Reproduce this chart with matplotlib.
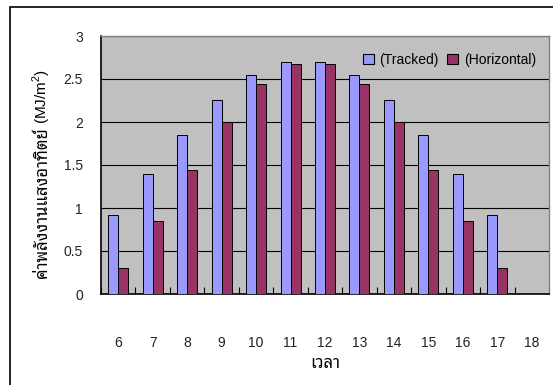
import numpy as np
import matplotlib
matplotlib.use("Agg")
import matplotlib.pyplot as plt
from matplotlib.patches import Rectangle, Patch

plt.rcParams['font.family'] = ['Liberation Sans', 'Noto Sans Thai Looped']
plt.rcParams['mathtext.fontset'] = 'custom'
plt.rcParams['mathtext.rm'] = 'Liberation Sans'

# hourly solar energy, tracked collector vs horizontal surface
hours = ['6', '7', '8', '9', '10', '11', '12', '13', '14', '15', '16', '17', '18']
tracked = [0.92, 1.40, 1.85, 2.26, 2.55, 2.70, 2.70, 2.55, 2.26, 1.85, 1.40, 0.92]
horizontal = [0.30, 0.85, 1.44, 2.00, 2.44, 2.67, 2.67, 2.44, 2.00, 1.44, 0.85, 0.30]

c_tracked = '#9999FF'
c_horiz = '#993366'

fig = plt.figure(figsize=(5.53, 3.85), dpi=100)
ax = fig.add_axes([101/553, 1 - 294/385, 448/553, 258/385])
ax.set_facecolor('#C0C0C0')

# outer chart frame
fig.patches.append(Rectangle((10/553, -0.05), 1.0, 1 - 7/385 + 0.05, transform=fig.transFigure,
                             fill=False, edgecolor='black', linewidth=1.2))

x = np.arange(len(tracked))
w = 0.29
ax.bar(x - w/2, tracked, w, color=c_tracked, edgecolor='black', linewidth=0.7, zorder=3)
ax.bar(x + w/2, horizontal, w, color=c_horiz, edgecolor='black', linewidth=0.7, zorder=3)

ax.set_xlim(-0.5, len(hours) - 0.5)
ax.set_ylim(0, 3)
ax.set_yticks(np.arange(0, 3.01, 0.5))
ax.set_yticklabels(['0', '0.5', '1', '1.5', '2', '2.5', '3'])
ax.yaxis.grid(True, color='black', linewidth=0.8, zorder=1)
ax.set_axisbelow(True)
ax.tick_params(axis='y', length=0, pad=13, labelsize=10, labelcolor='#222222')

ax.set_xticks(np.arange(len(hours)))
ax.set_xticklabels(hours)
ax.tick_params(axis='x', which='major', length=0, pad=30, labelsize=10, labelcolor='#222222')
ax.set_xticks(np.arange(len(hours)) - 0.5, minor=True)
ax.tick_params(axis='x', which='minor', direction='in', length=5, width=0.8, color='black')

for s in ['top', 'right']:
    ax.spines[s].set_color('#808080')
    ax.spines[s].set_linewidth(1.0)
for s in ['left', 'bottom']:
    ax.spines[s].set_color('black')
    ax.spines[s].set_linewidth(1.2)

fig.text(325/553, 1 - 363/385, 'เวลา', fontsize=12, fontweight='bold',
         ha='center', va='center')

fig.text(42/553, 1 - 127/385, 'ค่าพลังงานแสงอาทิตย์', rotation=90, fontsize=12,
         fontweight='bold', ha='center', va='top')
fig.text(42/553, 1 - 124/385, '(MJ/m$^{2}$)', rotation=90, fontsize=11,
         ha='center', va='bottom')

handles = [Patch(facecolor=c_tracked, edgecolor='black', linewidth=0.8, label='(Tracked)'),
           Patch(facecolor=c_horiz, edgecolor='black', linewidth=0.8, label='(Horizontal)')]
ax.legend(handles=handles, loc='center right', bbox_to_anchor=(536/553, 1 - 60/385),
          bbox_transform=fig.transFigure, ncol=2, frameon=False, fontsize=10,
          handlelength=0.8, handleheight=0.8, handletextpad=0.4, columnspacing=0.6,
          borderpad=0, borderaxespad=0)

fig.savefig('out.png', dpi=100)
